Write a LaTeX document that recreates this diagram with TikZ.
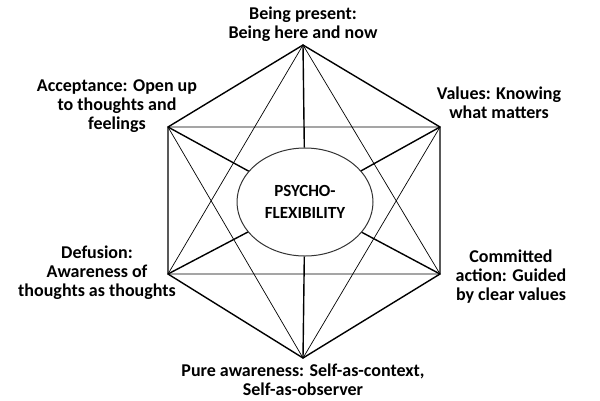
\documentclass[tikz,border=0pt]{standalone}
\usepackage{fontspec}
\setmainfont{Carlito}
\usetikzlibrary{shapes.geometric}
\begin{document}
\begin{tikzpicture}[x=1pt,y=-1pt,
  edge/.style={line width=1.4pt},
  chord/.style={line width=0.7pt},
  txt/.style={align=center,inner sep=0pt,font=\fontsize{18}{19}\selectfont\bfseries}]
\useasboundingbox (0,0) rectangle (600,400);
\coordinate (T) at (303,45);
\coordinate (UR) at (440,127);
\coordinate (LR) at (440,274);
\coordinate (B) at (303,358);
\coordinate (LL) at (168,274);
\coordinate (UL) at (168,127);
% the two triangles
\draw[chord] (T)--(LL)--(LR)--cycle;
\draw[chord] (B)--(UL)--(UR)--cycle;
% outer hexagon
\draw[edge] (T)--(UR)--(LR)--(B)--(LL)--(UL)--cycle;
\node[ellipse,draw=black!80,line width=1pt,fill=white,minimum width=136pt,minimum height=108pt,
  inner sep=0pt,align=center,font=\fontsize{17}{22}\selectfont\bfseries] (flex) at (305,202) {PSYCHO-\\FLEXIBILITY};
\foreach \p in {T,UR,LR,B,LL,UL}
\draw[edge](\p)--(flex);
% labels
\node[txt] (present) at (303,24) {Being present:\\Being here and now};
\node[txt] (accept) at (117,106) {Acceptance: Open up\\to thoughts and\\feelings};
\node[txt] (values) at (499,103) {Values: Knowing\\what matters};
\node[txt] (defuse) at (97,273) {Defusion:\\Awareness of\\thoughts as thoughts};
\node[txt] (commit) at (511,277) {Committed\\action: Guided\\by clear values};
\node[txt] (aware) at (303,380) {Pure awareness: Self-as-context,\\Self-as-observer};
\end{tikzpicture}
\end{document}
